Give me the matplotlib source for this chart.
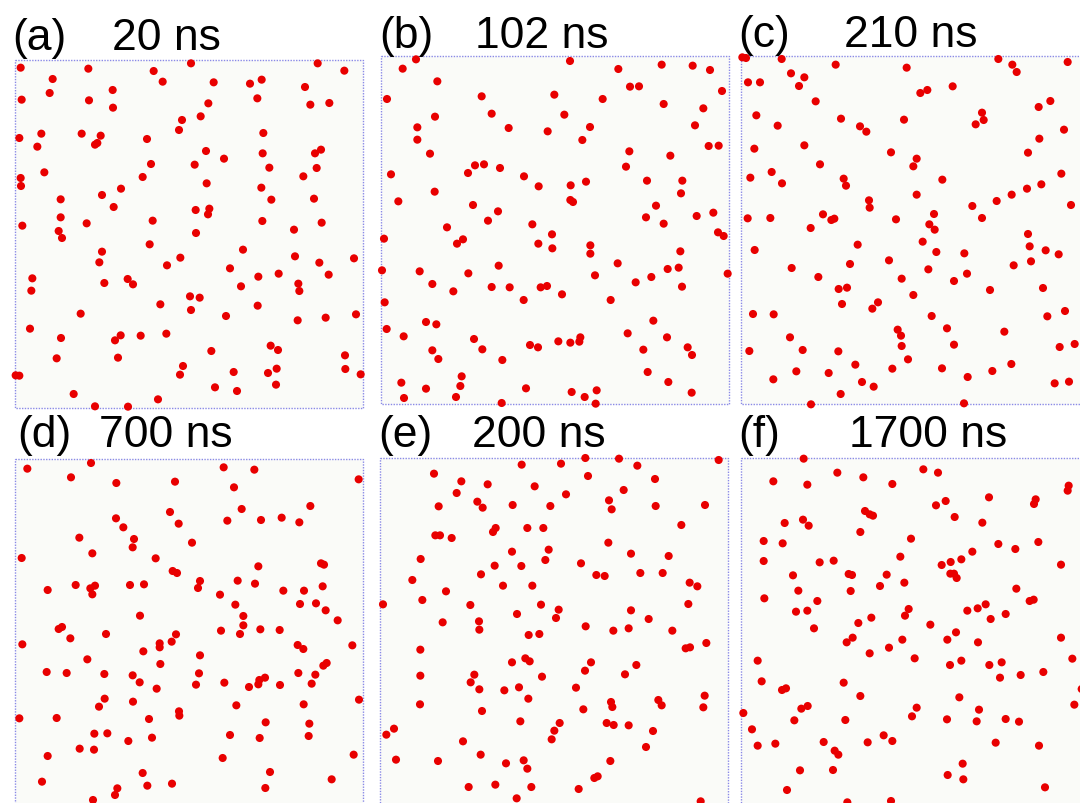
import matplotlib
matplotlib.use("Agg")
import matplotlib.pyplot as plt
from matplotlib.patches import Rectangle

# Particle positions (x, y) at each snapshot, in cell units (y grows downward)
pts_a = [(62,41),(265,44),(158,75),(149,117),(65,137),(267,139),(338,108),(339,161),(461,51),(488,83),
         (573,28),(641,85),(750,89),(785,77),(772,133),(625,148),(602,187),(546,198),(537,228),(915,99),
         (953,28),(1033,50),(931,152),(988,147),(58,252),(124,239),(112,278),(245,239),(302,245),(292,267),
         (285,272),(441,255),(790,237),(618,291),(672,314),(788,298),(945,298),(963,287),(584,332),(453,330),
         (808,341),(950,342),(133,355),(62,372),(63,396),(428,369),(620,388),(910,367),(363,404),(306,423),
         (182,436),(341,459),(784,401),(814,437),(942,434),(587,468),(628,464),(624,481),(458,500),(182,490),
         (67,515),(260,508),(176,531),(186,552),(588,537),(787,501),(965,506),(882,527),(449,571),(729,587),
         (306,593),(298,625),(501,634),(541,611),(690,643),(885,607),(958,626),(1062,613),(97,673),(94,710),
         (313,687),(383,675),(399,691),(723,697),(775,668),(836,659),(986,662),(895,689),(898,711),(570,727),
         (599,731),(481,751),(573,768),(773,755),(678,786),(242,779),(893,799),(977,791),(1068,781),(90,824),
         (183,852),(345,859),(362,844),(422,845),(499,839),(812,875),(834,888),(634,891),(170,913),(354,911),
         (1035,904),(549,936),(540,962),(701,954),(804,957),(830,944),(1036,945),(1082,961),(47,964),(58,965),
         (645,1000),(711,1011),(828,992),(221,1020),(474,1036),(285,1057),(384,1058)]

pts_b = [(123,31),(83,59),(187,97),(36,150),(585,36),(730,60),(860,47),(953,50),(1005,63),(765,113),
         (792,112),(1041,126),(538,137),(683,150),(320,142),(866,165),(985,178),(180,203),(350,194),(568,197),
         (127,235),(401,237),(518,247),(645,234),(960,229),(127,272),(622,273),(1001,291),(1031,290),(165,314),
         (763,307),(886,320),(279,372),(300,349),(327,346),(375,357),(753,353),(48,376),(447,382),(491,412),
         (587,409),(633,398),(816,395),(922,395),(179,428),(918,433),(70,457),(586,453),(594,459),(294,468),
         (369,487),(339,515),(843,470),(813,505),(866,524),(965,501),(1015,491),(472,526),(531,556),(1029,550),
         (1046,561),(216,535),(27,569),(246,584),(264,571),(490,584),(532,598),(646,589),(646,614),(916,607),
         (21,664),(134,667),(280,673),(371,650),(172,705),(235,727),(350,714),(404,715),(497,715),(516,711),
         (660,679),(728,643),(782,700),(829,684),(878,660),(911,656),(921,713),(1058,674),(29,760),(446,753),
         (561,736),(707,753),(35,840),(153,819),(184,826),(86,862),(297,870),(322,901),(172,904),(190,930),
         (382,933),(465,888),(489,895),(550,877),(586,881),(613,878),(616,865),(758,853),(835,815),(876,865),
         (805,902),(938,895),(951,918),(818,969),(79,1001),(87,1047),(153,1019),(260,982),(256,1011),(243,1044),
         (380,1062),(453,1018),(590,1029),(629,1044),(665,1024),(662,1064),(880,999),(950,1031)]

pts_c = [(22,25),(33,27),(140,30),(302,47),(515,56),(790,30),(832,47),(845,69),(998,39),(168,73),
         (208,85),(192,111),(39,100),(75,100),(556,132),(577,123),(653,112),(242,157),(911,174),(946,156),
         (64,199),(128,230),(318,209),(375,232),(394,248),(507,212),(741,191),(746,213),(722,226),(987,242),
         (58,299),(208,289),(468,310),(545,329),(535,352),(913,269),(879,311),(255,346),(46,386),(110,369),
         (141,403),(326,389),(333,410),(622,392),(545,437),(785,456),(830,437),(876,419),(919,406),(979,374),
         (1008,468),(712,471),(402,454),(404,476),(38,508),(106,507),(264,496),(289,513),(298,509),(227,537),
         (483,511),(597,495),(583,526),(599,542),(741,507),(879,555),(59,603),(368,587),(563,578),(604,609),
         (688,613),(884,592),(932,604),(971,616),(888,637),(836,649),(462,634),(345,645),(170,657),(250,684),
         (580,661),(500,689),(657,696),(696,674),(311,720),(336,716),(765,723),(924,717),(535,738),(321,765),
         (429,760),(412,779),(54,795),(116,796),(590,801),(937,802),(990,786),(636,838),(808,848),(488,842),
         (498,860),(500,891),(657,887),(165,865),(43,906),(203,903),(310,907),(974,894),(1019,885),(519,931),
         (361,947),(472,959),(621,958),(829,945),(772,966),(184,967),(281,972),(115,991),(381,999),(416,1013),
         (698,984),(959,1003),(1002,998),(317,1035),(228,1066),(687,1063)]

pts_d = [(82,59),(273,42),(213,85),(349,102),(525,98),(671,55),(763,62),(702,115),(1076,91),(510,189),
         (536,224),(348,208),(370,235),(725,180),(682,215),(783,213),(845,206),(898,220),(931,171),(238,266),
         (402,270),(398,295),(576,281),(277,313),(65,327),(467,328),(775,352),(963,343),(972,347),(518,366),
         (531,372),(600,396),(594,417),(713,395),(765,404),(143,423),(227,408),(271,418),(285,410),(277,436),
         (390,408),(432,406),(660,437),(850,425),(912,425),(968,412),(706,467),(900,465),(948,463),(977,484),
         (420,500),(730,501),(1013,514),(176,540),(186,534),(211,568),(318,555),(730,529),(720,555),(663,545),
         (781,541),(839,543),(528,556),(515,578),(479,583),(479,595),(67,586),(430,607),(600,619),(893,588),
         (910,600),(1057,589),(262,631),(481,645),(140,669),(200,672),(313,675),(398,679),(419,700),(470,719),
         (597,673),(588,707),(673,701),(747,714),(775,706),(778,693),(795,686),(840,708),(895,672),(946,677),
         (970,650),(980,642),(935,704),(314,749),(297,773),(399,758),(709,769),(911,766),(1077,752),(58,808),
         (170,807),(447,810),(537,787),(538,800),(797,820),(928,824),(283,854),(322,853),(385,876),(456,866),
         (690,858),(779,867),(926,861),(239,899),(282,902),(143,921),(668,927),(1061,917),(428,972),(810,969),
         (126,998),(442,1010),(516,1004),(352,1018),(345,1038),(279,1053),(796,1017),(995,991)]

pts_e = [(449,47),(567,44),(640,27),(741,29),(796,50),(1040,33),(186,74),(268,97),(347,106),(488,112),
         (582,136),(648,81),(755,123),(849,90),(254,132),(316,158),(332,176),(200,172),(422,168),(535,171),
         (711,154),(719,181),(851,171),(999,168),(928,228),(190,259),(204,259),(239,267),(363,249),(371,237),
         (466,237),(514,237),(420,308),(530,302),(520,333),(709,281),(777,314),(890,321),(146,330),(368,350),
         (448,351),(627,343),(673,378),(698,381),(805,372),(872,372),(327,376),(121,393),(393,410),(481,410),
         (222,427),(953,401),(976,412),(151,453),(33,466),(295,468),(507,467),(560,482),(552,507),(435,495),
         (777,484),(830,510),(949,465),(212,520),(321,517),(322,542),(470,558),(502,555),(641,532),(724,545),
         (770,538),(901,545),(941,598),(954,595),(1003,582),(145,602),(420,640),(460,628),(473,637),(657,640),
         (639,665),(793,648),(759,676),(145,680),(307,677),(296,700),(322,721),(397,724),(441,715),(510,683),
         (612,716),(469,749),(144,766),(330,786),(634,781),(717,759),(721,774),(859,753),(869,769),(998,740),
         (994,775),(445,817),(563,822),(547,845),(539,871),(704,822),(725,828),(770,829),(843,846),(66,839),
         (43,857),(273,877),(822,894),(72,932),(198,936),(326,917),(402,943),(455,934),(466,959),(715,936),
         (667,987),(677,982),(290,1014),(370,1007),(478,1014),(620,1020),(434,1048),(986,1057)]

pts_f = [(206,29),(115,97),(217,107),(307,71),(385,85),(472,105),(565,61),(609,71),(1001,110),(998,125),
         (603,169),(632,156),(762,145),(902,151),(897,165),(659,204),(742,221),(390,186),(404,196),(414,200),
         (376,249),(149,222),(204,212),(221,230),(86,276),(143,283),(528,269),(790,285),(841,300),(910,279),
         (86,336),(254,340),(296,335),(496,323),(620,348),(647,339),(679,331),(712,308),(978,347),(174,379),
         (341,375),(351,378),(455,377),(646,374),(657,374),(665,387),(435,411),(508,401),(347,426),(190,425),
         (88,448),(247,456),(844,419),(884,456),(896,452),(183,488),(217,485),(521,480),(510,500),(697,485),
         (728,478),(752,466),(767,510),(812,495),(370,522),(409,506),(586,527),(237,538),(335,580),(353,566),
         (462,596),(502,572),(637,572),(663,550),(729,580),(404,613),(539,628),(978,566),(68,635),(645,648),
         (679,635),(763,648),(800,640),(795,686),(857,678),(925,669),(1012,629),(80,697),(141,723),(153,718),
         (326,701),(376,741),(673,745),(1018,767),(25,792),(199,779),(218,771),(545,776),(531,802),(732,782),
         (51,841),(178,814),(331,813),(636,811),(725,817),(812,810),(852,818),(68,890),(121,884),(266,879),
         (299,905),(310,917),(398,880),(446,859),(472,876),(782,881),(912,890),(683,944),(638,978),(685,991),
         (195,964),(294,963),(156,1023),(930,1015),(337,1060),(468,1056),(1040,720)]

labels = ["(a)", "(b)", "(c)", "(d)", "(e)", "(f)"]
times = ["20 ns", "102 ns", "210 ns", "700 ns", "200 ns", "1700 ns"]
snapshots = [pts_a, pts_b, pts_c, pts_d, pts_e, pts_f]

W, H = 1080, 804
fig = plt.figure(figsize=(W / 100, H / 100), dpi=100)
fig.patch.set_facecolor("white")

# Layout per snapshot: view window (left, top, width, height) in figure pixels,
# simulation cell corner inside the view, label positions and baseline.
views = [(0, 55, 370, 360), (375, 50, 360, 362), (735, 50, 345, 362),
         (0, 450, 370, 354), (372, 450, 362, 354), (735, 450, 345, 354)]
cell_corner = [(45, 18), (18, 22), (18, 22), (45, 31), (23, 27), (18, 28)]
cell_size = 1044
label_x = [12, 379, 738, 17, 378, 738]
time_x = [112, 475, 844, 99, 472, 849]
baseline_y = [50, 48, 47, 447, 447, 447]

for k, pts in enumerate(snapshots):
    vx, vy, vw, vh = views[k]
    ax = fig.add_axes([vx / W, 1 - (vy + vh) / H, vw / W, vh / H])
    ax.set_xlim(0, 3 * vw)
    ax.set_ylim(3 * vh, 0)
    ax.axis("off")
    cx, cy = cell_corner[k]
    ax.add_patch(Rectangle((cx, cy), cell_size, cell_size, facecolor="#fafbf8",
                           edgecolor="#8a8ae6", linewidth=1.0, linestyle=(0, (1, 1)),
                           zorder=1))
    xs = [p[0] for p in pts]
    ys = [p[1] for p in pts]
    ax.scatter(xs, ys, s=34, color="#e80000", edgecolors="none", zorder=3, clip_on=False)

    fig.text(label_x[k] / W, 1 - baseline_y[k] / H, labels[k], fontsize=32,
             family="Liberation Sans", va="baseline", ha="left")
    fig.text(time_x[k] / W, 1 - baseline_y[k] / H, times[k], fontsize=32,
             family="Liberation Sans", va="baseline", ha="left")

fig.savefig("out.png", dpi=100, facecolor="white")
